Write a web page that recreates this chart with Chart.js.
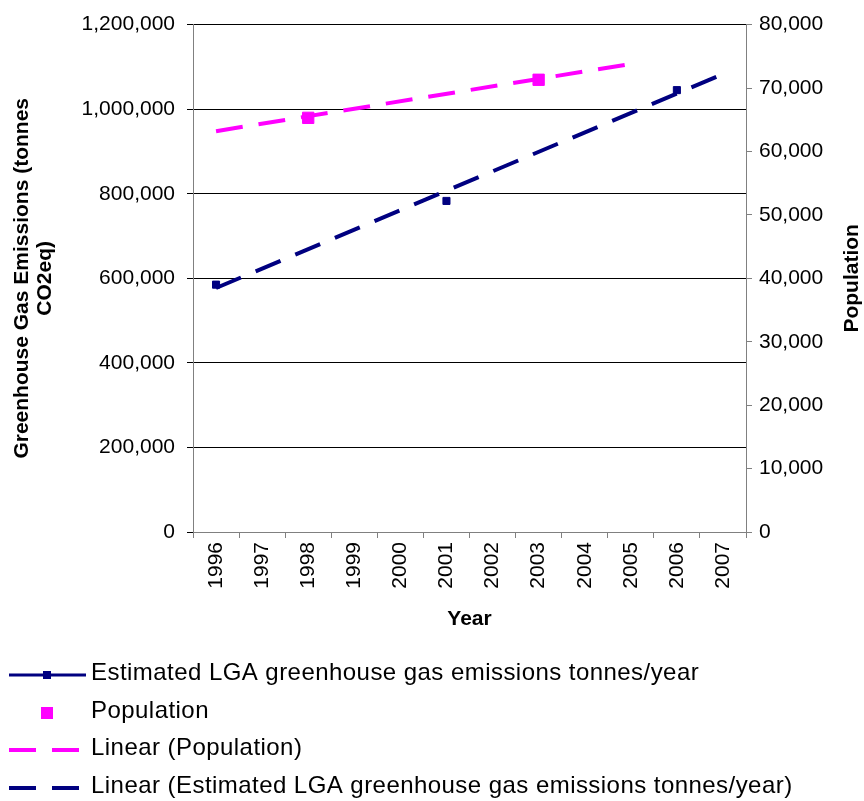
<!DOCTYPE html>
<html>
<head>
<meta charset="utf-8">
<title>Greenhouse gas emissions and population</title>
<script src="https://cdn.jsdelivr.net/npm/chart.js@4/dist/chart.umd.min.js"></script>
<style>
  body { margin: 0; background: #fff; }
  #wrap { position: relative; width: 864px; height: 801px; }
</style>
</head>
<body>
<div id="wrap"><canvas id="myChart"></canvas></div>
<script>
// x axis categories
const years = ['1996', '1997', '1998', '1999', '2000', '2001', '2002', '2003', '2004', '2005', '2006', '2007'];

// estimated emissions, only known for 3 years (tonnes CO2eq)
const emissions = [585000, null, null, null, null, 783000, null, null, null, null, 1045000, null];

// population, only 2 years known
const population = [null, null, 65300, null, null, null, null, 71300, null, null, null, null];

// trend lines, start and end (straight line between them)
const emissionsTrend = [577000, null, null, null, null, null, null, null, null, null, null, 1083000];
const populationTrend = [63200, null, null, null, null, null, null, null, null, 73800, null, null];

// tick values for the two y axes
const leftTicks = [0, 200000, 400000, 600000, 800000, 1000000, 1200000];
const rightTicks = [0, 10000, 20000, 30000, 40000, 50000, 60000, 70000, 80000];

// names + titles
const seriesNames = [
  'Estimated LGA greenhouse gas emissions tonnes/year',
  'Population',
  'Linear (Population)',
  'Linear (Estimated LGA greenhouse gas emissions tonnes/year)'
];
const leftTitle = ['Greenhouse Gas Emissions (tonnes', 'CO2eq)'];
const rightTitle = 'Population';
const xTitle = 'Year';

const navy = '#000080';
const pink = '#FF00FF';
const fontName = '"Liberation Sans", Arial, sans-serif';

// axis titles and the legend at the bottom are drawn here
const titlesAndLegend = {
  id: 'titlesAndLegend',
  afterDraw(chart) {
    const ctx = chart.ctx;
    const area = chart.chartArea;
    const midY = (area.top + area.bottom) / 2;

    ctx.save();
    ctx.fillStyle = '#000';
    ctx.font = 'bold 21px ' + fontName;
    ctx.textAlign = 'center';
    ctx.textBaseline = 'middle';

    // left title, two lines
    ctx.save();
    ctx.translate(22, midY);
    ctx.rotate(-Math.PI / 2);
    ctx.fillText(leftTitle[0], 0, 0);
    ctx.fillText(leftTitle[1], 0, 23);
    ctx.restore();

    // right title
    ctx.save();
    ctx.translate(852, midY);
    ctx.rotate(-Math.PI / 2);
    ctx.fillText(rightTitle, 0, 0);
    ctx.restore();

    // x title
    ctx.fillText(xTitle, (area.left + area.right) / 2, 619);

    // legend
    const rows = [673, 711, 748, 786];
    const ds = chart.data.datasets;
    ctx.textAlign = 'left';
    ctx.font = '24px ' + fontName;
    ctx.letterSpacing = '0.45px';
    for (let i = 0; i < ds.length; i++) {
      const d = ds[i];
      const y = rows[i];
      ctx.save();
      ctx.letterSpacing = '0px';
      if (d.showLine !== false) {
        ctx.strokeStyle = d.borderColor;
        ctx.lineWidth = d.legendLineWidth || d.borderWidth;
        ctx.setLineDash(d.borderDash || []);
        ctx.beginPath();
        ctx.moveTo(9, y + 2);
        ctx.lineTo(86, y + 2);
        ctx.stroke();
      }
      if (d.pointRadius > 0) {
        const side = d.legendMarker;
        ctx.fillStyle = d.pointBackgroundColor;
        ctx.fillRect(47 - side / 2, y + 2 - side / 2, side, side);
      }
      ctx.restore();
      ctx.fillText(d.label, 91, y);
    }
    ctx.restore();
  }
};

const myChart = new Chart(document.getElementById('myChart'), {
  type: 'line',
  data: {
    labels: years,
    datasets: [
      {
        label: seriesNames[0],
        data: emissions,
        yAxisID: 'y',
        borderColor: navy,
        backgroundColor: navy,
        borderWidth: 3,
        pointStyle: 'rect',
        pointRadius: 5,
        pointBorderWidth: 1,
        pointBackgroundColor: navy,
        pointBorderColor: navy,
        spanGaps: false,
        legendMarker: 8,
        order: 2
      },
      {
        label: seriesNames[1],
        data: population,
        yAxisID: 'y2',
        showLine: false,
        borderColor: pink,
        backgroundColor: pink,
        pointStyle: 'rect',
        pointRadius: 8,
        pointBorderWidth: 1,
        pointBackgroundColor: pink,
        pointBorderColor: pink,
        legendMarker: 12,
        order: 2
      },
      {
        label: seriesNames[2],
        data: populationTrend,
        yAxisID: 'y2',
        borderColor: pink,
        borderWidth: 4,
        borderDash: [27, 16],
        borderCapStyle: 'butt',
        pointRadius: 0,
        spanGaps: true,
        order: 1
      },
      {
        label: seriesNames[3],
        data: emissionsTrend,
        yAxisID: 'y',
        borderColor: navy,
        borderWidth: 4,
        borderDash: [27, 16],
        borderCapStyle: 'butt',
        pointRadius: 0,
        spanGaps: true,
        order: 1
      }
    ]
  },
  options: {
    responsive: true,
    maintainAspectRatio: false,
    animation: false,
    layout: {
      padding: { top: 22, bottom: 161, left: 0, right: 0 }
    },
    plugins: {
      legend: { display: false },
      tooltip: { enabled: false }
    },
    scales: {
      x: {
        offset: true,
        grid: {
          offset: true,
          drawOnChartArea: false,
          tickLength: 6,
          tickColor: '#808080'
        },
        border: { color: '#808080' },
        ticks: {
          minRotation: 90,
          maxRotation: 90,
          padding: 4,
          color: '#000',
          font: { family: fontName, size: 21 }
        },
        afterFit: s => { s.height = 108; }
      },
      y: {
        position: 'left',
        min: 0,
        max: 1200000,
        afterBuildTicks: axis => { axis.ticks = leftTicks.map(v => ({ value: v })); },
        grid: {
          color: '#000',
          tickColor: '#000',
          tickLength: 6
        },
        border: { color: '#808080' },
        ticks: {
          padding: 12,
          color: '#000',
          font: { family: fontName, size: 21 },
          callback: v => v.toLocaleString('en-US')
        },
        afterFit: s => { s.width = 193; }
      },
      y2: {
        position: 'right',
        min: 0,
        max: 80000,
        afterBuildTicks: axis => { axis.ticks = rightTicks.map(v => ({ value: v })); },
        grid: {
          drawOnChartArea: false,
          tickColor: '#808080',
          tickLength: 6
        },
        border: { color: '#808080' },
        ticks: {
          padding: 7,
          color: '#000',
          font: { family: fontName, size: 21 },
          callback: v => v.toLocaleString('en-US')
        },
        afterFit: s => { s.width = 118; }
      }
    }
  },
  plugins: [titlesAndLegend]
});
</script>
</body>
</html>
